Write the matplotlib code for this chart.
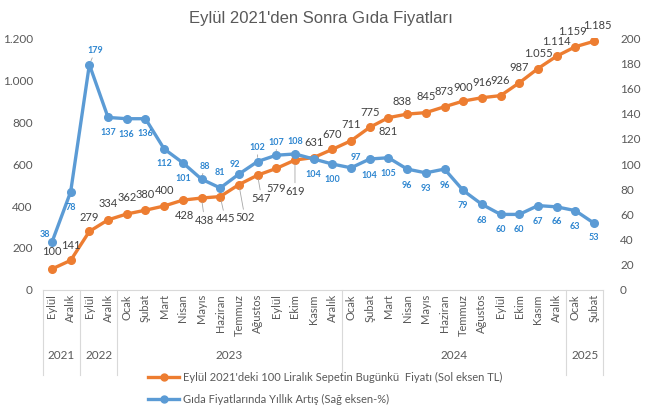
import matplotlib.pyplot as plt
from matplotlib.lines import Line2D
from matplotlib.ticker import FuncFormatter, MultipleLocator
import matplotlib.transforms as mtransforms

plt.rcParams['font.family'] = ['Lato', 'DejaVu Sans']

months = ['Eylül', 'Aralık', 'Eylül', 'Aralık',
          'Ocak', 'Şubat', 'Mart', 'Nisan', 'Mayıs', 'Haziran', 'Temmuz', 'Ağustos',
          'Eylül', 'Ekim', 'Kasım', 'Aralık',
          'Ocak', 'Şubat', 'Mart', 'Nisan', 'Mayıs', 'Haziran', 'Temmuz', 'Ağustos',
          'Eylül', 'Ekim', 'Kasım', 'Aralık',
          'Ocak', 'Şubat']
years = ['2021', '2022', '2023', '2024', '2025']
year_counts = [2, 2, 12, 12, 2]

basket = [100, 141, 279, 334, 362, 380, 400, 428, 438, 445, 502, 547, 579, 619, 631,
          670, 711, 775, 821, 838, 845, 873, 900, 916, 926, 987, 1055, 1114, 1159, 1185]
food_inflation = [38, 78, 179, 137, 136, 136, 112, 101, 88, 81, 92, 102, 107, 108, 104,
                  100, 97, 104, 105, 96, 93, 96, 79, 68, 60, 60, 67, 66, 63, 53]

# label offsets in pixels (dx, dy)
basket_dy = [17, 15, 14, 16, 16, 16, 16, -15, -22, -22, -33, -23, -20, -31, 15,
             15, 16, 15, -14, 13, 16, 15, 14, 15, 15, 15, 15, 15, 15, 16]
basket_dx = [0, 0, 0, 0, 0, 0, 0, 2, 3, 5, 6, 4, 0, 0, 0,
             0, 0, 0, 0, -5, 0, 0, 0, 0, 0, 0, 0, 0, -3, 3]
basket_leader = [8, 9, 10, 11, 13, 19]
infl_dy = [8, -16, 14, -15, -16, -15, -15, -16, 13, 15, 10, 14, 13, 12, -15,
           -15, 10, -16, -16, -16, -16, -16, -15, -16, -15, -15, -16, -15, -16, -14]
infl_dx = [-7, 0, 6, 0, 0, 0, 0, 0, 3, 0, -4, 0, 0, 0, 0,
           0, 5, 0, 0, 0, 0, 0, 0, 0, 0, 0, 0, 0, 0, 0]
infl_leader = [2, 8, 11, 12]

orange = '#ED7D31'
blue = '#5B9BD5'
grey = '#595959'

fig = plt.figure(figsize=(6.49, 4.19), dpi=100)
ax = fig.add_axes([0.0657, 0.308, 0.864, 0.601])
ax2 = ax.twinx()

x = list(range(len(months)))
ax.plot(x, basket, color=orange, lw=2.4, marker='o', ms=5.5, zorder=3)
ax2.plot(x, food_inflation, color=blue, lw=2.4, marker='o', ms=5.5, zorder=3)

ax.set_xlim(-0.5, len(months) - 0.5)
ax.set_ylim(0, 1200)
ax2.set_ylim(0, 200)
ax.yaxis.set_major_locator(MultipleLocator(200))
ax2.yaxis.set_major_locator(MultipleLocator(20))
ax.yaxis.set_major_formatter(FuncFormatter(lambda v, p: f'{int(v):,}'.replace(',', '.')))

for a in (ax, ax2):
    for s in a.spines.values():
        s.set_visible(False)
    a.tick_params(axis='y', length=0, labelsize=8.5, labelcolor=grey)
ax.spines['bottom'].set_visible(True)
ax.spines['bottom'].set_color('#D9D9D9')
ax.tick_params(axis='y', pad=7)
ax2.tick_params(axis='y', pad=12)

ax.set_xticks(x)
ax.set_xticklabels(months, rotation=90, fontsize=8, color=grey, va='top')
ax.tick_params(axis='x', length=0, pad=3)

# year groups and separator lines
trans = mtransforms.blended_transform_factory(ax.transData, ax.transAxes)
start = -0.5
ax.plot([start, start], [0, -0.337], transform=trans, color='#D9D9D9', lw=0.8, clip_on=False)
for yr, n in zip(years, year_counts):
    end = start + n
    ax.plot([end, end], [0, -0.337], transform=trans, color='#D9D9D9', lw=0.8, clip_on=False)
    ax.text((start + end) / 2, -0.26, yr, transform=trans, ha='center', va='center',
            fontsize=8.5, color=grey)
    start = end

# data labels
for i, v in enumerate(basket):
    lbl = f'{v:,}'.replace(',', '.')
    arrow = dict(arrowstyle='-', color='#A6A6A6', lw=0.6, shrinkA=0, shrinkB=3) if i in basket_leader else None
    ax.annotate(lbl, (i, v), xytext=(basket_dx[i], basket_dy[i]), textcoords='offset pixels',
                ha='center', va='center', fontsize=8, color='#404040', arrowprops=arrow, zorder=4)
for i, v in enumerate(food_inflation):
    arrow = dict(arrowstyle='-', color='#A6A6A6', lw=0.6, shrinkA=0, shrinkB=3) if i in infl_leader else None
    ax2.annotate(str(v), (i, v), xytext=(infl_dx[i], infl_dy[i]), textcoords='offset pixels',
                 ha='center', va='center', fontsize=6.5, fontweight='bold', color='#2E86D0',
                 arrowprops=arrow, zorder=4)

fig.text(0.495, 0.957, "Eylül 2021'den Sonra Gıda Fiyatları",
         ha='center', va='center', fontsize=12, color=grey,
         family=['Liberation Sans Narrow', 'Liberation Sans', 'DejaVu Sans'])

handles = [Line2D([], [], color=orange, lw=2.4, marker='o', ms=5),
           Line2D([], [], color=blue, lw=2.4, marker='o', ms=5)]
labels = ["Eylül 2021'deki 100 Liralık Sepetin Bugünkü  Fiyatı (Sol eksen TL)",
          'Gıda Fiyatlarında Yıllık Artış (Sağ eksen-%)']
fig.legend(handles, labels, loc='upper left', bbox_to_anchor=(0.22, 0.125), frameon=False,
           fontsize=8, labelcolor=grey, handlelength=2.8, handletextpad=0.3, borderpad=0,
           labelspacing=0.95)

fig.savefig('out.png', dpi=100)
